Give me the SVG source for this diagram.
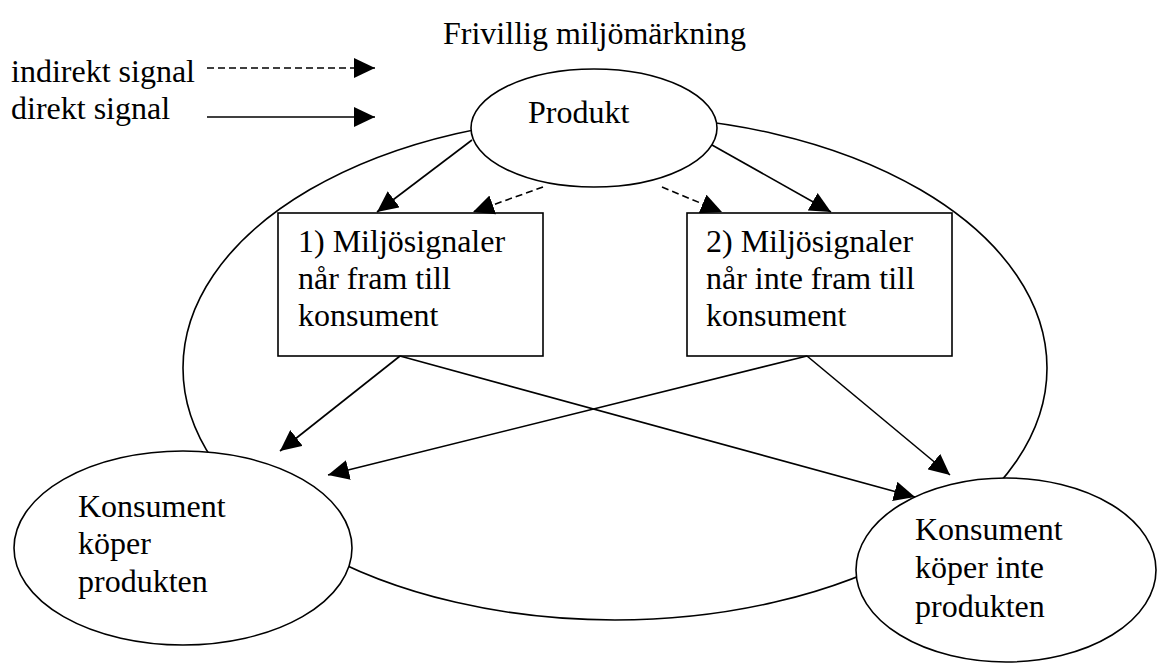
<svg xmlns="http://www.w3.org/2000/svg" width="1160" height="663" viewBox="0 0 1160 663">
<style>
text{font-family:"Liberation Serif","Times New Roman",serif;font-size:32px;fill:#000}
.shape{fill:#fff;stroke:#000;stroke-width:1.6}
.ring{fill:none;stroke:#000;stroke-width:1.6}
.c{fill:none;stroke:#000;stroke-width:1.6;marker-end:url(#ah)}
.d{stroke-dasharray:7 4}
</style>
<defs>
<marker id="ah" markerUnits="userSpaceOnUse" markerWidth="22" markerHeight="20" refX="21" refY="10" orient="auto">
<path d="M0,0 L21,10 L0,20 z" fill="#000"/>
</marker>
</defs>
<rect width="1160" height="663" fill="#fff"/>
<text x="443" y="44">Frivillig miljömärkning</text>
<g id="legend">
<text x="11" y="82">indirekt signal</text>
<text x="11" y="119">direkt signal</text>
<line class="c d" x1="207" y1="68" x2="375" y2="68"/>
<line class="c" x1="207" y1="117" x2="375" y2="117"/>
</g>
<g id="cycle"><ellipse class="ring" cx="615" cy="368" rx="432" ry="252"/></g>
<g id="produkt"><ellipse class="shape" cx="594" cy="128" rx="123" ry="59"/><text x="528" y="123">Produkt</text></g>
<g id="box1"><rect class="shape" x="278" y="213" width="265" height="143"/>
<text x="298" y="252">1) Miljösignaler</text><text x="298" y="289">når fram till</text><text x="298" y="326">konsument</text></g>
<g id="box2"><rect class="shape" x="687" y="213" width="265" height="143"/>
<text x="706" y="252">2) Miljösignaler</text><text x="706" y="289">når inte fram till</text><text x="706" y="326">konsument</text></g>
<g id="koper"><ellipse class="shape" cx="183" cy="548" rx="169" ry="97"/>
<text x="78" y="517">Konsument</text><text x="78" y="554">köper</text><text x="78" y="592">produkten</text></g>
<g id="koperinte"><ellipse class="shape" cx="1006" cy="570" rx="150" ry="92"/>
<text x="915" y="540">Konsument</text><text x="915" y="578">köper inte</text><text x="915" y="617">produkten</text></g>
<g id="connectors">
<line class="c" x1="472" y1="140" x2="377" y2="212"/>
<line class="c d" x1="543" y1="187" x2="473" y2="212"/>
<line class="c d" x1="662" y1="187" x2="722" y2="212"/>
<line class="c" x1="712" y1="145" x2="831" y2="212"/>
<line class="c" x1="400" y1="356" x2="280" y2="451"/>
<line class="c" x1="400" y1="356" x2="915" y2="497"/>
<line class="c" x1="807" y1="356" x2="328" y2="475"/>
<line class="c" x1="807" y1="356" x2="950" y2="475"/>
</g>
</svg>
